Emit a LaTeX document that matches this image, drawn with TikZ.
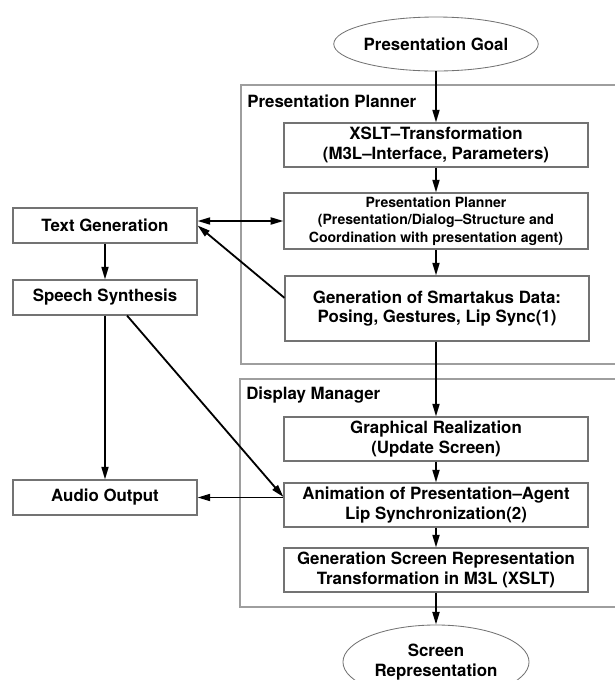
\documentclass[tikz,border=0pt]{standalone}
\usepackage{fontspec}
\setmainfont{TeX Gyre Heros}
\usetikzlibrary{shapes.geometric,arrows.meta}

\definecolor{boxline}{gray}{0.45}
\definecolor{frameline}{gray}{0.62}

\def\plannerframe{(241,85) rectangle (660,364)}
\def\displayframe{(240,379) rectangle (660,607)}

\tikzset{
  >={Triangle[length=9pt,width=5pt]},
  stagebox/.style={draw=boxline, line width=0.8pt, align=center, inner sep=0pt,
    minimum width=7.6cm, minimum height=1.1cm,
    font=\bfseries\fontsize{12}{14}\selectfont},
  sidebox/.style={draw=boxline, line width=0.8pt, inner sep=0pt,
    minimum width=4.6cm, minimum height=0.875cm,
    font=\bfseries\fontsize{12}{14}\selectfont},
  goalshape/.style={ellipse, draw=boxline, line width=0.6pt, align=center, inner sep=0pt,
    minimum width=4.6cm, minimum height=1.35cm,
    font=\bfseries\fontsize{12}{14}\selectfont},
  framelabel/.style={anchor=west, inner sep=0pt,
    font=\bfseries\fontsize{12}{14}\selectfont},
  frame/.style={draw=frameline, line width=0.8pt},
  flow/.style={line width=1.3pt, ->}
}

\begin{document}
\begin{tikzpicture}[x=0.025cm, y=-0.025cm]
    \clip (0,0) rectangle (615,680);

    \draw[frame] \plannerframe;
    \draw[frame] \displayframe;
    \node[framelabel] (pplabel) at (247,101) {Presentation Planner};
    \node[framelabel] (dmlabel) at (246,395) {Display Manager};

    \node[goalshape] (goal) at (436,44) {Presentation Goal};
    \node[stagebox] (xslt) at (436,145) {XSLT--Transformation\\(M3L--Interface, Parameters)};
    \node[stagebox, minimum height=1.4cm, font=\bfseries\fontsize{10}{12.5}\selectfont] (planner) at (436,221)
      {Presentation Planner\\(Presentation/Dialog--Structure and\\Coordination with presentation agent)};
    \node[stagebox, minimum height=1.625cm] (smart) at (437,308.5)
      {Generation of Smartakus Data:\\Posing, Gestures, Lip Sync(1)};
    \node[stagebox] (graph) at (436,439) {Graphical Realization\\(Update Screen)};
    \node[stagebox] (anim) at (436,505) {Animation of Presentation--Agent\\Lip Synchronization(2)};
    \node[stagebox] (genscr) at (436,570) {Generation Screen Representation\\Transformation in M3L (XSLT)};
    \node[goalshape, minimum width=4.65cm, minimum height=1.85cm] (screen) at (436,662) {Screen\\Representation};

    \node[sidebox] (textgen) at (105,225.5) {Text Generation};
    \node[sidebox] (speech) at (105,297.5) {Speech Synthesis};
    \node[sidebox] (audio) at (105,497.5) {Audio Output};

    % main chain down the right side
    \draw[flow] (goal) -- (xslt);
    \draw[flow] (xslt) -- (planner);
    \draw[flow] (planner) -- (planner |- smart.north);
    \draw[flow] (smart.south -| graph.north) -- (graph);
    \draw[flow] (graph) -- (anim);
    \draw[flow] (anim) -- (genscr);
    \draw[flow] (genscr) -- (screen);

    % speech side
    \draw[flow, <->] (planner.west -| textgen.east) -- (planner.west);
    \draw[flow] (smart.176) -- (textgen.east);
    \draw[flow] (textgen) -- (speech);
    \draw[flow] (speech) -- (audio);
    \draw[flow] ([xshift=0.55cm]speech.south) -- (anim.177);
    \draw[flow] (anim.west |- audio.east) -- (audio.east);

\end{tikzpicture}
\end{document}
